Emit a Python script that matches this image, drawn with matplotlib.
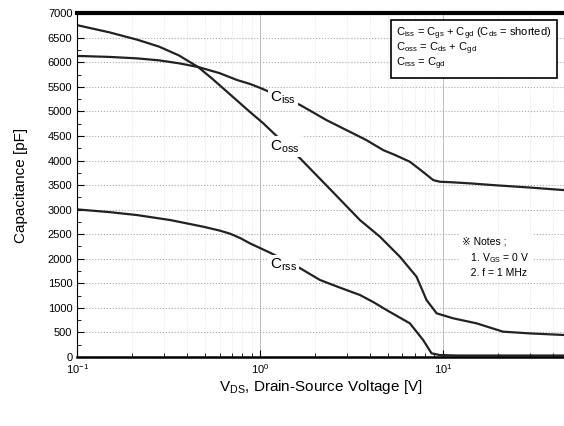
import numpy as np
import matplotlib
matplotlib.use("Agg")
import matplotlib.pyplot as plt

plt.rcParams["font.family"] = ["Liberation Sans", "DejaVu Sans"]
plt.rcParams["mathtext.fontset"] = "custom"
plt.rcParams["mathtext.rm"] = "Liberation Sans"
plt.rcParams["mathtext.it"] = "Liberation Sans"

# curves: V_DS [V], capacitance [pF]
vds_iss = [0.1, 0.15, 0.213, 0.28, 0.36, 0.458, 0.6, 0.748, 0.88, 1.0,
           1.66, 2.31, 3.1, 3.8, 4.72, 5.5, 6.6, 7.6, 8.86, 9.64, 10.9, 14.1, 18.8, 30, 46]
c_iss = [6130, 6110, 6080, 6040, 5980, 5905, 5780, 5640, 5560, 5480,
         5130, 4823, 4585, 4420, 4212, 4110, 3975, 3800, 3602, 3568, 3560, 3535, 3500, 3450, 3398]

vds_oss = [0.1, 0.15, 0.213, 0.28, 0.36, 0.458, 0.55, 0.686, 0.88, 1.04,
           1.66, 2.5, 3.52, 4.53, 5.82, 7.18, 8.14, 9.25, 11.4, 15.3, 21.3, 30, 46]
c_oss = [6756, 6610, 6460, 6320, 6140, 5905, 5660, 5345, 4990, 4760,
         4040, 3360, 2788, 2448, 2041, 1634, 1160, 889, 787, 685, 516, 480, 448]

vds_rss = [0.1, 0.15, 0.212, 0.323, 0.49, 0.6, 0.686, 0.78, 0.88, 1.135,
           1.66, 2.13, 2.7, 3.52, 4.2, 4.92, 6.6, 7.8, 8.67, 9.6, 12, 20, 46]
c_rss = [3005, 2950, 2890, 2788, 2652, 2575, 2510, 2420, 2314, 2123,
         1805, 1567, 1420, 1262, 1110, 956, 685, 346, 75, 40, 30, 30, 30]

labels = [("iss", 1.34, 5270), ("oss", 1.37, 4280), ("rss", 1.34, 1870)]

fig, ax = plt.subplots(figsize=(5.64, 4.26), dpi=100)
fig.subplots_adjust(left=0.137, right=1.0, bottom=0.162, top=0.969)

for x, y in [(vds_iss, c_iss), (vds_oss, c_oss), (vds_rss, c_rss)]:
    ax.semilogx(x, y, color="#222222", lw=1.6)

for sub, x, y in labels:
    ax.text(x, y, r"C$_{\mathregular{%s}}$" % sub, fontsize=11, ha="center", va="center",
            bbox=dict(facecolor="white", edgecolor="none", pad=1.5))

ax.set_xlim(0.1, 46)
ax.set_ylim(0, 7000)
ax.set_yticks(np.arange(0, 7001, 500))
ax.set_yticks(np.arange(0, 7001, 250), minor=True)
ax.tick_params(which="both", direction="in", labelsize=8)
ax.tick_params(which="major", length=5)
ax.tick_params(which="minor", length=3)
ax.grid(axis="y", which="major", color="#aaaaaa", ls=":", lw=0.8)
ax.grid(axis="x", which="major", color="#bbbbbb", ls="-", lw=0.7)
ax.grid(axis="x", which="minor", color="#dddddd", ls=":", lw=0.6)
ax.spines["top"].set_linewidth(3)
ax.spines["bottom"].set_linewidth(1.8)
ax.spines["right"].set_visible(False)

ax.set_ylabel("Capacitance [pF]", fontsize=11, labelpad=14)
ax.set_xlabel(r"V$_{\mathregular{DS}}$, Drain-Source Voltage [V]", fontsize=11, labelpad=2)

legend_txt = ("C$_{\\mathregular{iss}}$ = C$_{\\mathregular{gs}}$ + C$_{\\mathregular{gd}}$ (C$_{\\mathregular{ds}}$ = shorted)\n"
              "C$_{\\mathregular{oss}}$ = C$_{\\mathregular{ds}}$ + C$_{\\mathregular{gd}}$\n"
              "C$_{\\mathregular{rss}}$ = C$_{\\mathregular{gd}}$")
ax.text(0.655, 0.965, legend_txt, transform=ax.transAxes, fontsize=8, va="top", ha="left",
        linespacing=0.9,
        bbox=dict(facecolor="white", edgecolor="black", lw=1.2, pad=4))

notes_txt = "\u203b Notes ;\n   1. V$_{\\mathregular{GS}}$ = 0 V\n   2. f = 1 MHz"
ax.text(0.79, 0.29, notes_txt, transform=ax.transAxes, fontsize=7.5, va="center", ha="left",
        linespacing=1.4,
        bbox=dict(facecolor="white", edgecolor="none", pad=2))

fig.savefig("out.png")
